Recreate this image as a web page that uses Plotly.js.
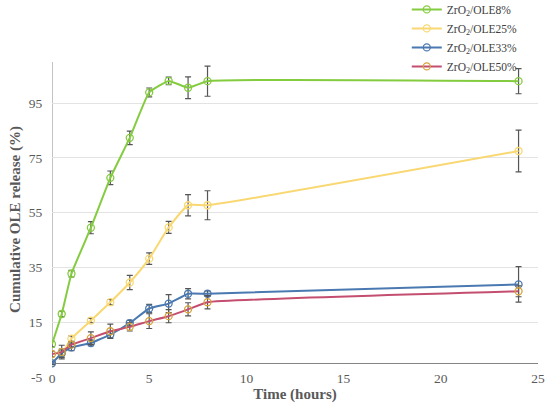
<!DOCTYPE html>
<html>
<head>
<meta charset="utf-8">
<script src="https://cdn.plot.ly/plotly-3.0.1.min.js"></script>
<style>html,body{margin:0;padding:0;background:#fff}#chart{width:550px;height:412px}</style>
</head>
<body>
<div id="chart"></div>
<script>
var hours = [0, 0.5, 1, 2, 3, 4, 5, 6, 7, 8, 24];
var names = ["ZrO<sub>2</sub>/OLE8%", "ZrO<sub>2</sub>/OLE25%", "ZrO<sub>2</sub>/OLE33%", "ZrO<sub>2</sub>/OLE50%"];
var ole8 = [7.0, 18.0, 32.7, 49.5, 67.7, 82.3, 98.9, 103.1, 100.6, 103.0, 103.0];
var ole8Err = [1.0, 1.0, 1.2, 2.2, 2.5, 2.5, 1.6, 1.4, 4.0, 5.5, 4.6];
var ole25 = [0.1, 3.5, 9.0, 15.6, 22.3, 29.5, 38.2, 49.6, 57.7, 57.7, 77.5];
var ole25Err = [0.5, 1.0, 1.0, 0.8, 1.0, 2.6, 2.1, 2.2, 3.9, 5.3, 7.6];
var ole33 = [0.0, 3.7, 5.8, 7.4, 10.5, 14.7, 20.0, 21.8, 25.4, 25.4, 28.8];
var ole33Err = [0.5, 1.5, 1.2, 1.0, 1.2, 1.0, 1.5, 3.3, 1.9, 1.0, 6.5];
var ole50 = [3.4, 4.1, 6.8, 9.2, 11.7, 13.3, 15.4, 17.2, 19.7, 22.3, 26.3];
var ole50Err = [1.0, 2.5, 1.0, 2.3, 2.6, 1.5, 2.7, 2.4, 2.4, 2.4, 2.0];
var yTickVals = [-5, 15, 35, 55, 75, 95];
var yTickText = ["-5", "15", "35", "55", "75", "95"];
var xTickVals = [0, 5, 10, 15, 20, 25];
var lineColors = ["#84CC3F", "#F9D872", "#4A78B0", "#C44E70"];
var markerColors = ["#84CC3F", "#F9D872", "#4A78B0", "#D6A23A"];
var smooth = [0.35, 0.45, 0.3, 0.3];

var series = [ole8, ole25, ole33, ole50];
var errs = [ole8Err, ole25Err, ole33Err, ole50Err];
var traces = series.map(function(s, i) {
  return {
    x: hours, y: s, name: names[i], type: "scatter", mode: "lines+markers",
    line: {color: lineColors[i], width: 2, shape: "spline", smoothing: smooth[i]},
    marker: {symbol: "circle-open", size: 7, color: markerColors[i], line: {width: 1.3, color: markerColors[i]}},
    error_y: {type: "data", array: errs[i], visible: true, color: "#555555", thickness: 1.2, width: 3}
  };
});

var serif = "'Liberation Serif', 'Times New Roman', serif";
var layout = {
  width: 550, height: 412,
  margin: {l: 52, r: 12, t: 62, b: 35, autoexpand: false},
  paper_bgcolor: "#ffffff", plot_bgcolor: "#ffffff",
  font: {family: serif, color: "#595959", size: 13},
  showlegend: true,
  legend: {x: 0.73, y: 1.213, xanchor: "left", yanchor: "top", bgcolor: "rgba(0,0,0,0)",
           font: {family: serif, size: 11.5, color: "#404040"}, itemwidth: 30},
  xaxis: {
    range: [0, 25], tickmode: "array", tickvals: xTickVals, showgrid: false, zeroline: false,
    showline: false, ticks: "", ticklabelstandoff: -9,
    tickfont: {family: serif, size: 13.5, color: "#595959"},
    title: {text: "<b>Time (hours)</b>", font: {family: serif, size: 15, color: "#595959"}, standoff: 2}
  },
  yaxis: {
    range: [-5, 110], tickmode: "array", tickvals: yTickVals, ticktext: yTickText,
    showgrid: true, gridcolor: "#e3e3e3", gridwidth: 1,
    zeroline: true, zerolinecolor: "#858585", zerolinewidth: 1.5,
    showline: false, ticks: "outside", ticklen: 6, tickcolor: "rgba(0,0,0,0)",
    tickfont: {family: serif, size: 13.5, color: "#595959"},
    title: {text: "<b>Cumulative OLE release (%)</b>", font: {family: serif, size: 15, color: "#595959"}, standoff: 4}
  },
  shapes: [{type: "line", xref: "x", yref: "y", x0: 0, x1: 0, y0: 0, y1: 110,
            line: {color: "#9a9a9a", width: 1.2}, layer: "below"}]
};
Plotly.newPlot("chart", traces, layout, {displayModeBar: false, staticPlot: true});
</script>
</body>
</html>
